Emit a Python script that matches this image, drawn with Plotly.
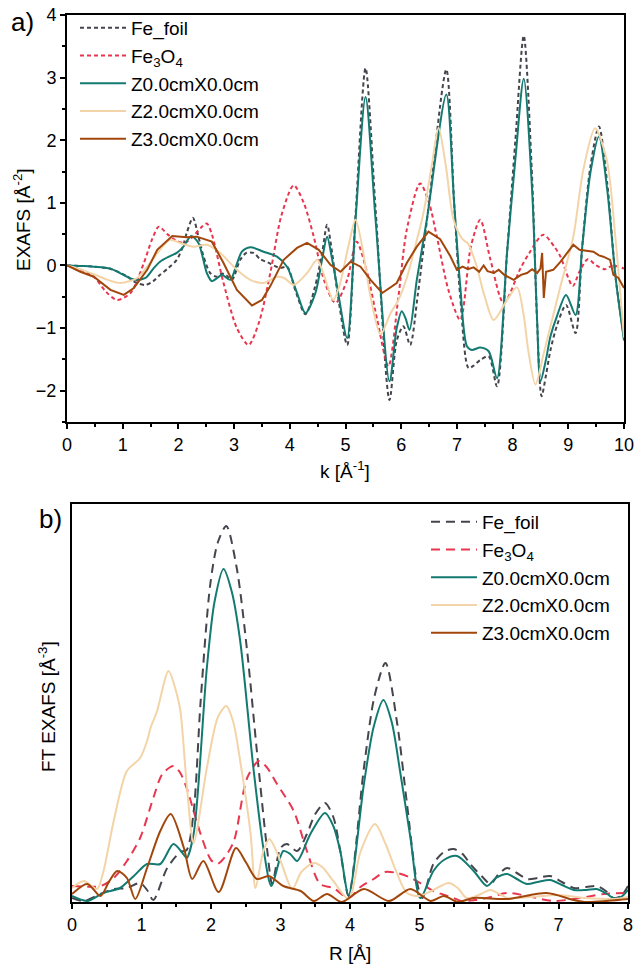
import plotly.graph_objects as go

# ---------------- Panel a) : EXAFS in k-space ----------------
k_fe = [0, 0.5, 0.8, 1.05, 1.25, 1.41, 1.55, 1.67, 1.82, 1.97, 2.08, 2.15, 2.26, 2.36, 2.45, 2.57, 2.69, 2.78, 2.85,
        2.96, 3.11, 3.22, 3.35, 3.47, 3.6, 3.83, 3.95, 4.1, 4.28, 4.45, 4.58, 4.67, 4.76, 4.85, 5.03, 5.18, 5.36, 5.54,
        5.79, 5.92, 6.04, 6.16, 6.3, 6.5, 6.81, 6.95, 7.06, 7.21, 7.3, 7.42, 7.57, 7.72, 7.9, 8.05, 8.2, 8.35, 8.44,
        8.52, 8.6, 8.68, 8.8, 8.96, 9.13, 9.25, 9.4, 9.55, 9.7, 9.85, 10]
chi_fe = [0, -0.02, -0.06, -0.16, -0.28, -0.31, -0.25, -0.15, -0.04, 0.09, 0.3, 0.52, 0.76, 0.46, 0.15, -0.12, -0.18,
          -0.13, -0.15, -0.23, 0.09, 0.2, 0.2, 0.1, 0.05, -0.04, -0.02, -0.4, -0.78, -0.35, 0.2, 0.65, 0.2, -0.4, -1.27,
          0.8, 3.15, 0.9, -2.15, -1.2, -0.97, -1.27, -0.45, 1.0, 3.13, 1.0, -0.5, -1.64, -1.6, -1.51, -1.45, -1.93,
          0.2, 2.0, 3.67, 1.4, -0.9, -2.09, -1.75, -1.35, -0.95, -0.63, -1.08, 0.3, 1.6, 2.22, 1.3, -0.2, -1.15]

k_fe3o4 = [0, 0.2, 0.48, 0.7, 0.9, 1.14, 1.38, 1.52, 1.65, 1.8, 1.94, 2.1, 2.25, 2.4, 2.51, 2.6, 2.81, 3.05, 3.26,
           3.45, 3.65, 3.85, 4.07, 4.25, 4.43, 4.62, 4.82, 5.03, 5.2, 5.39, 5.57, 5.77, 5.95, 6.1, 6.34, 6.5, 6.64,
           6.85, 7.06, 7.25, 7.42, 7.6, 7.84, 8.14, 8.3, 8.55, 8.75, 8.86, 9.08, 9.2, 9.35, 9.5, 9.66, 9.8, 10]
chi_fe3o4 = [0, -0.05, -0.18, -0.42, -0.55, -0.44, 0.04, 0.4, 0.62, 0.5, 0.41, 0.36, 0.45, 0.6, 0.67, 0.5, -0.28,
             -1.0, -1.27, -0.9, -0.12, 0.8, 1.28, 1.0, 0.46, -0.25, -0.6, -0.23, 0.38, -0.12, -0.87, -1.61, -0.5,
             0.57, 1.31, 1.0, 0.46, -0.4, -0.87, 0.3, 0.73, 0.1, -0.6, -0.05, 0.2, 0.49, 0.3, 0.14, -0.33, -0.1, 0.1,
             0.0, -0.06, 0.0, -0.05]

k_z0 = [0, 0.3, 0.48, 0.78, 1.08, 1.23, 1.41, 1.55, 1.67, 1.85, 1.97, 2.09, 2.23, 2.36, 2.51, 2.6, 2.7, 2.78, 2.93,
        3.04, 3.14, 3.29, 3.53, 3.77, 3.95, 4.13, 4.28, 4.46, 4.58, 4.67, 4.76, 4.85, 5.03, 5.18, 5.36, 5.54, 5.79,
        5.92, 6.01, 6.08, 6.15, 6.28, 6.46, 6.81, 6.95, 7.06, 7.18, 7.27, 7.42, 7.57, 7.72, 7.9, 8.05, 8.2, 8.35,
        8.44, 8.5, 8.6, 8.68, 8.8, 8.96, 9.13, 9.25, 9.4, 9.55, 9.7, 9.85, 10]
chi_z0 = [0, -0.01, -0.02, -0.05, -0.18, -0.23, -0.2, -0.05, 0.06, 0.15, 0.2, 0.3, 0.47, 0.36, -0.12, -0.25, -0.2,
          -0.15, -0.23, 0.0, 0.22, 0.29, 0.22, 0.14, -0.02, -0.44, -0.76, -0.44, 0.1, 0.46, 0.1, -0.34, -1.16, 0.73,
          2.69, 0.73, -1.85, -1.0, -0.73, -0.85, -1.03, -0.23, 0.73, 2.73, 1.0, -0.33, -1.29, -1.35, -1.31, -1.37,
          -1.8, 0.2, 1.7, 2.98, 1.2, -0.87, -1.85, -1.5, -1.13, -0.8, -0.47, -0.79, 0.3, 1.5, 2.06, 1.2, -0.2, -1.2]

k_z2 = [0, 0.2, 0.48, 0.7, 0.96, 1.26, 1.44, 1.67, 1.85, 2.03, 2.27, 2.51, 2.75, 3.05, 3.29, 3.53, 3.77, 3.9, 4.07,
        4.31, 4.49, 4.6, 4.78, 4.9, 5.05, 5.18, 5.3, 5.45, 5.63, 5.81, 5.95, 6.1, 6.25, 6.4, 6.55, 6.67, 6.8, 6.94,
        7.1, 7.2, 7.35, 7.5, 7.66, 7.9, 8.08, 8.2, 8.28, 8.41, 8.56, 8.7, 8.86, 9.09, 9.27, 9.48, 9.69, 9.85, 10]
chi_z2 = [0, -0.05, -0.14, -0.22, -0.28, -0.2, -0.02, 0.25, 0.41, 0.36, 0.3, 0.33, 0.2, -0.07, -0.23, -0.28, -0.18,
          -0.2, -0.31, -0.12, 0.09, -0.12, -0.55, -0.3, 0.3, 0.73, 0.3, -0.5, -1.1, -0.76, -0.55, -0.2, 0.3, 0.84,
          1.6, 2.2, 1.6, 0.73, 0.42, 0.35, 0.0, -0.5, -0.87, -0.55, -0.35, -0.8, -1.35, -1.9, -1.4, -0.9, -0.33,
          0.46, 1.53, 2.19, 1.69, 0.4, -1.15]

k_z3 = [0, 0.24, 0.48, 0.78, 1.02, 1.2, 1.44, 1.62, 1.89, 2.15, 2.33, 2.6, 2.81, 3.05, 3.32, 3.5, 3.65, 3.89, 4.13,
        4.31, 4.52, 4.73, 4.91, 5.09, 5.27, 5.45, 5.66, 5.92, 6.1, 6.28, 6.49, 6.7, 6.88, 7.0, 7.1, 7.2, 7.3, 7.4,
        7.48, 7.55, 7.66, 7.75, 7.85, 8.02, 8.15, 8.26, 8.35, 8.44, 8.5, 8.53, 8.56, 8.6, 8.73, 8.85, 8.98, 9.09,
        9.2, 9.33, 9.45, 9.55, 9.63, 9.75, 9.81, 9.9, 10]
chi_z3 = [0, -0.1, -0.18, -0.39, -0.47, -0.36, -0.07, 0.25, 0.47, 0.45, 0.46, 0.38, 0.04, -0.39, -0.64, -0.55, -0.33,
          0.09, 0.28, 0.36, 0.25, 0.01, -0.1, 0.06, -0.02, -0.23, -0.44, -0.28, 0.04, 0.3, 0.54, 0.42, 0.15, -0.07,
          -0.02, -0.06, -0.03, -0.1, 0.0, -0.09, -0.12, -0.07, -0.15, -0.23, -0.15, -0.12, -0.06, -0.12, -0.05, 0.2,
          -0.52, -0.1, -0.07, 0.05, 0.2, 0.33, 0.25, 0.23, 0.22, 0.16, 0.14, 0.09, -0.15, -0.2, -0.36]

# ---------------- Panel b) : FT EXAFS in R-space ----------------
r_fe = [0, 0.17, 0.41, 0.6, 0.79, 0.98, 1.08, 1.17, 1.37, 1.56, 1.65, 1.75, 1.85, 1.99, 2.1, 2.22, 2.37, 2.52, 2.66,
        2.81, 2.88, 3.0, 3.09, 3.24, 3.38, 3.5, 3.64, 3.76, 3.86, 3.98, 4.2, 4.35, 4.51, 4.68, 4.82, 4.96, 5.04, 5.2,
        5.35, 5.49, 5.62, 5.73, 5.92, 6.02, 6.14, 6.26, 6.4, 6.55, 6.7, 6.88, 7.05, 7.22, 7.4, 7.55, 7.7, 7.79, 7.9, 8.0]
ft_fe = [0.04, 0.01, 0.08, 0.13, 0.14, 0.19, 0.12, 0.02, 0.34, 0.5, 0.52, 0.9, 2.0, 3.18, 3.6, 3.76, 3.34, 2.51, 1.51,
         0.51, 0.18, 0.54, 0.58, 0.51, 0.68, 0.88, 0.99, 0.85, 0.51, 0.06, 1.34, 2.05, 2.39, 1.78, 0.98, 0.21, 0.04,
         0.38, 0.5, 0.53, 0.48, 0.38, 0.24, 0.18, 0.28, 0.34, 0.29, 0.23, 0.24, 0.26, 0.2, 0.14, 0.15, 0.16, 0.1,
         0.04, 0.06, 0.16]

r_fe3o4 = [0, 0.41, 0.6, 0.79, 0.98, 1.17, 1.3, 1.46, 1.55, 1.65, 1.85, 2.0, 2.09, 2.2, 2.33, 2.52, 2.69, 2.8, 2.95,
           3.19, 3.38, 3.57, 3.76, 3.98, 4.15, 4.34, 4.5, 4.68, 4.85, 4.96, 5.2, 5.49, 5.6, 5.8, 5.97, 6.26, 6.55,
           6.93, 7.31, 7.65, 8.0]
ft_fe3o4 = [0.16, 0.16, 0.24, 0.41, 0.64, 1.04, 1.28, 1.36, 1.3, 1.14, 0.68, 0.42, 0.38, 0.45, 0.61, 1.24, 1.41, 1.35,
            1.18, 0.91, 0.51, 0.18, 0.14, 0.04, 0.15, 0.23, 0.3, 0.29, 0.25, 0.21, 0.11, 0.04, 0.01, 0.02, 0.04, 0.09,
            0.06, 0.01, 0.04, 0.08, 0.09]

r_z0 = [0, 0.22, 0.45, 0.69, 0.89, 1.08, 1.27, 1.46, 1.6, 1.65, 1.75, 1.94, 2.05, 2.18, 2.3, 2.42, 2.61, 2.76, 2.87,
        3.04, 3.14, 3.24, 3.43, 3.64, 3.76, 3.86, 3.98, 4.2, 4.34, 4.48, 4.6, 4.72, 4.87, 5.01, 5.2, 5.35, 5.54, 5.78,
        5.97, 6.1, 6.26, 6.4, 6.55, 6.7, 6.88, 7.05, 7.22, 7.4, 7.55, 7.7, 7.79, 7.9, 8.0]
ft_z0 = [0.06, 0.01, 0.09, 0.14, 0.26, 0.38, 0.38, 0.58, 0.48, 0.44, 0.68, 2.34, 3.0, 3.33, 3.1, 2.61, 1.34, 0.51,
         0.16, 0.51, 0.48, 0.41, 0.68, 0.89, 0.76, 0.51, 0.07, 1.18, 1.75, 2.02, 1.8, 1.31, 0.64, 0.04, 0.31, 0.42,
         0.46, 0.31, 0.16, 0.24, 0.28, 0.23, 0.18, 0.2, 0.22, 0.17, 0.12, 0.12, 0.13, 0.08, 0.04, 0.05, 0.12]

r_z2 = [0, 0.17, 0.36, 0.45, 0.6, 0.79, 0.98, 1.08, 1.13, 1.22, 1.39, 1.5, 1.56, 1.65, 1.75, 1.94, 2.1, 2.22, 2.32,
        2.42, 2.57, 2.64, 2.75, 2.84, 3.0, 3.17, 3.3, 3.48, 3.6, 3.76, 3.98, 4.15, 4.36, 4.5, 4.68, 4.82, 5.0, 5.2,
        5.42, 5.55, 5.68, 5.85, 6.02, 6.15, 6.26, 6.6, 7.0, 7.4, 7.8, 8.0]
ft_z2 = [0.14, 0.21, 0.13, 0.3, 0.81, 1.31, 1.44, 1.61, 1.74, 1.9, 2.31, 2.1, 1.91, 1.18, 0.59, 1.34, 1.85, 1.96, 1.8,
         1.41, 0.68, 0.14, 0.5, 0.63, 0.41, 0.13, 0.3, 0.39, 0.35, 0.21, 0.03, 0.5, 0.78, 0.6, 0.28, 0.09, 0.06, 0.12,
         0.19, 0.14, 0.04, 0.07, 0.12, 0.08, 0.04, 0.05, 0.07, 0.04, 0.03, 0.05]

r_z3 = [0, 0.22, 0.41, 0.53, 0.65, 0.79, 0.91, 1.08, 1.27, 1.42, 1.61, 1.73, 1.89, 2.11, 2.36, 2.5, 2.66, 2.83, 3.04,
        3.29, 3.48, 3.67, 3.88, 4.2, 4.56, 4.87, 5.16, 5.35, 5.55, 5.78, 6.26, 6.83, 7.22, 7.41, 8.0]
ft_z3 = [0.08, 0.18, 0.06, 0.2, 0.31, 0.24, 0.03, 0.34, 0.71, 0.88, 0.54, 0.23, 0.41, 0.1, 0.54, 0.4, 0.23, 0.26,
         0.16, 0.11, 0.01, 0.08, 0.0, 0.13, 0.01, 0.13, 0.01, 0.06, 0.0, 0.04, 0.03, 0.09, 0.02, 0.0, 0.03]

names = ["Fe_foil", "Fe<sub>3</sub>O<sub>4</sub>", "Z0.0cmX0.0cm", "Z2.0cmX0.0cm", "Z3.0cmX0.0cm"]
colors = ["#45454d", "#e8364f", "#137a72", "#f3d4a8", "#a2470c"]

FONT = "Liberation Sans, Arial, sans-serif"
W, H = 640, 970

fig = go.Figure()

top = [(k_fe, chi_fe), (k_fe3o4, chi_fe3o4), (k_z0, chi_z0), (k_z2, chi_z2), (k_z3, chi_z3)]
for i, (xs, ys) in enumerate(top):
    dash = "4px,3px" if i < 2 else "solid"
    shape = "linear" if i == 4 else "spline"
    fig.add_trace(go.Scatter(x=xs, y=ys, mode="lines", name=names[i],
                             line=dict(color=colors[i], width=2, dash=dash, shape=shape, smoothing=0.8),
                             xaxis="x", yaxis="y", legend="legend"))

bot = [(r_fe, ft_fe), (r_fe3o4, ft_fe3o4), (r_z0, ft_z0), (r_z2, ft_z2), (r_z3, ft_z3)]
for i, (xs, ys) in enumerate(bot):
    dash = "9px,6px" if i < 2 else "solid"
    fig.add_trace(go.Scatter(x=xs, y=ys, mode="lines", name=names[i],
                             line=dict(color=colors[i], width=2, dash=dash, shape="spline", smoothing=0.8),
                             xaxis="x2", yaxis="y2", legend="legend2"))

axis_common = dict(showgrid=False, zeroline=False, showline=True, linecolor="black", linewidth=2,
                   mirror=True, ticks="outside", ticklen=5, tickwidth=1.5, tickcolor="black",
                   tickfont=dict(family=FONT, size=18, color="black"), automargin=False)

fig.update_layout(
    width=W, height=H, margin=dict(l=0, r=0, t=0, b=0),
    paper_bgcolor="white", plot_bgcolor="white",
    font=dict(family=FONT, color="black"),
    xaxis=dict(domain=[67 / W, 624 / W], range=[0, 10], dtick=1, anchor="y",
               minor=dict(dtick=0.5, ticks="outside", ticklen=3, tickcolor="black"), **axis_common),
    yaxis=dict(domain=[1 - 422 / H, 1 - 15 / H], range=[-2.5, 4], dtick=1, anchor="x",
               minor=dict(dtick=0.5, ticks="outside", ticklen=3, tickcolor="black"), **axis_common),
    xaxis2=dict(domain=[72 / W, 628 / W], range=[0, 8], dtick=1, anchor="y2",
                minor=dict(dtick=0.5, ticks="outside", ticklen=3, tickcolor="black"), **axis_common),
    yaxis2=dict(domain=[1 - 902 / H, 1 - 504 / H], range=[0, 3.98], anchor="x2",
                showgrid=False, zeroline=False, showline=True, linecolor="black", linewidth=2,
                mirror=True, ticks="", showticklabels=False, automargin=False),
    legend=dict(x=75 / W, y=1 - 9 / H, xanchor="left", yanchor="top", bgcolor="rgba(0,0,0,0)",
                font=dict(family=FONT, size=19, color="black"), itemwidth=46, tracegroupgap=0),
    legend2=dict(x=426 / W, y=1 - 503 / H, xanchor="left", yanchor="top", bgcolor="rgba(0,0,0,0)",
                 font=dict(family=FONT, size=19, color="black"), itemwidth=46, tracegroupgap=0),
    showlegend=True,
)

ann = [
    dict(text="a)", x=22 / W, y=1 - 22 / H, font=dict(size=26)),
    dict(text="b)", x=50 / W, y=1 - 519 / H, font=dict(size=26)),
    dict(text="EXAFS [Å<sup>-2</sup>]", x=22 / W, y=1 - 220 / H, textangle=-90, font=dict(size=19)),
    dict(text="FT EXAFS [Å<sup>-3</sup>]", x=47 / W, y=1 - 707 / H, textangle=-90, font=dict(size=19)),
    dict(text="k [Å<sup>-1</sup>]", x=345 / W, y=1 - 470 / H, font=dict(size=19)),
    dict(text="R [Å]", x=350 / W, y=1 - 953 / H, font=dict(size=19)),
]
for a in ann:
    fig.add_annotation(xref="paper", yref="paper", showarrow=False, xanchor="center", yanchor="middle",
                       font=dict(family=FONT, color="black", size=a["font"]["size"]),
                       **{kk: v for kk, v in a.items() if kk != "font"})

fig.write_html("out.html")
